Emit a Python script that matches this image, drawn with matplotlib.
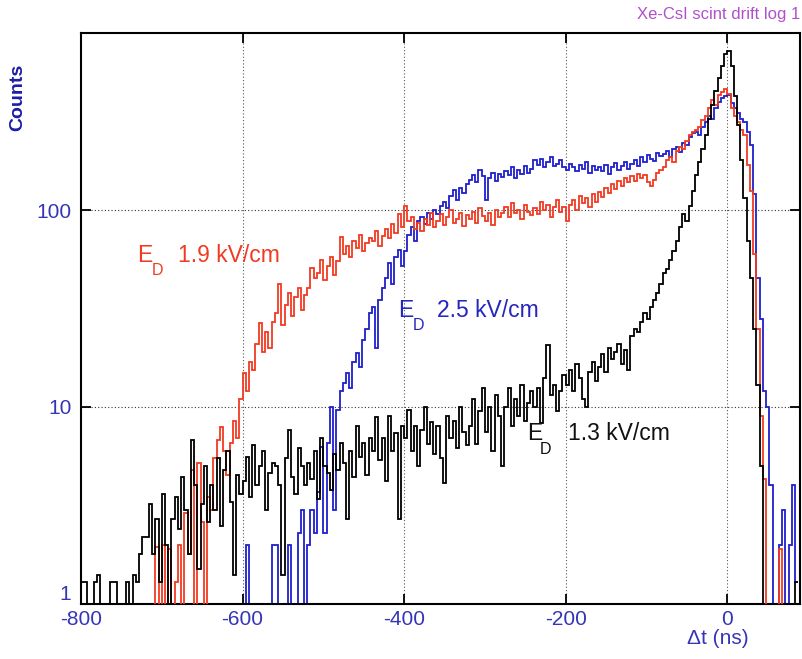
import numpy as np
import matplotlib
matplotlib.use("Agg")
import matplotlib.pyplot as plt

# ---- data (4 ns bins from -800 to 88 ns) ----
bin_edges_start = -800
bin_width = 4

black_counts = [
    1.3, 1.3, 0, 0, 1.3, 1.4, 0, 0, 0, 1.3,
    1.3, 0, 0, 0, 1.3, 0, 1.4, 1.3, 1.8, 2.2,
    2.2, 3.2, 1.8, 2.7, 1.3, 3.6, 2.0, 0, 2.7, 3.5,
    2.4, 4.4, 3.0, 1.8, 6.8, 4.0, 1.5, 3.2, 5.0, 2.6,
    4.0, 3.0, 5.5, 2.5, 4.8, 6.0, 3.3, 1.4, 4.5, 3.6,
    4.2, 5.6, 3.5, 6.4, 4.0, 5.0, 6.0, 3.0, 4.6, 5.2,
    5.0, 4.0, 1.4, 5.5, 7.6, 4.4, 3.6, 6.2, 5.0, 4.0,
    5.2, 4.3, 6.0, 3.4, 7.0, 5.0, 4.6, 3.8, 5.8, 4.8,
    6.6, 5.2, 2.7, 6.0, 4.4, 8.0, 5.6, 6.6, 4.5, 7.0,
    6.0, 8.9, 5.4, 7.0, 4.2, 9.0, 6.0, 7.4, 2.7, 8.0,
    7.0, 9.6, 6.0, 8.0, 5.0, 7.6, 10.0, 6.5, 8.4, 5.8,
    8.0, 5.5, 4.1, 9.0, 7.0, 8.5, 6.2, 10.0, 7.5, 6.4,
    8.0, 11.0, 6.5, 9.5, 12.5, 7.5, 10.0, 6.0, 11.5, 9.0,
    5.0, 10.0, 12.5, 8.0, 11.0, 9.0, 13.0, 8.5, 10.5, 12.0,
    10.0, 12.5, 8.3, 14.0, 20.6, 11.5, 13.0, 9.5, 12.0, 14.5,
    13.0, 15.5, 12.0, 16.5, 14.0, 11.0, 10.0, 15.0, 17.0, 13.5,
    16.0, 18.5, 15.0, 20.0, 17.5, 19.0, 21.0, 16.5, 19.5, 15.5,
    23.0, 25.0, 24.0, 27.0, 30.0, 28.0, 32.0, 35.0, 38.0, 42.0,
    48, 50, 56, 62, 70, 82, 95, 88, 105, 125,
    150, 175, 205, 240, 290, 340, 400, 470, 540, 620,
    640, 540, 380, 270, 180, 115, 70, 45, 25, 13,
    5, 0, 0, 0, 0, 0, 0, 0, 0, 0,
    0, 1.3,
]

red_counts = [
    0, 0, 0, 0, 0, 0, 0, 0, 0, 0,
    0, 0, 0, 0, 0, 0, 0, 0, 0, 0,
    0, 0, 0, 1.95, 0, 2.0, 0, 1.9, 0, 1.3,
    2.0, 0, 2.9, 1.8, 4.8, 0, 5.2, 2.6, 0, 3.5,
    3.0, 5.5, 6.8, 7.9, 6.0, 4.5, 6.6, 8.5, 7.0, 11.0,
    14.8, 12.0, 17.0, 15.5, 21.0, 26.7, 19.0, 24.0, 20.0, 27.0,
    30, 42, 26, 33, 38, 29, 36, 40, 31, 37,
    40, 51, 45, 48, 56, 44, 52, 58, 47, 55,
    73, 60, 66, 58, 70, 64, 75, 62, 68, 72,
    70, 78, 66, 74, 80, 72, 85, 76, 95, 82,
    105, 88, 92, 80, 86, 78, 90, 84, 96, 82,
    88, 95, 84, 92, 100, 86, 90, 97, 83, 94,
    90, 98, 86, 102, 93, 88, 96, 84, 100, 92,
    97, 104, 92, 108, 96, 100, 90, 106, 98, 94,
    102, 95, 110, 100, 106, 92, 104, 112, 98, 103,
    88, 106, 112, 100, 118, 108, 115, 104, 120, 110,
    124, 116, 130, 122, 135, 128, 140, 132, 145, 138,
    148, 140, 152, 145, 150, 138, 133, 142, 155, 160,
    165, 180, 186, 175, 200, 210, 205, 225, 240, 250,
    255, 265, 286, 300, 330, 360, 340, 385, 395, 410,
    390, 330, 300, 280, 255, 240, 170, 125, 60, 25,
    9, 4.3, 0, 0, 0, 0, 1.9, 0, 0, 0,
    0, 0,
]

blue_counts = [
    0, 0, 0, 0, 0, 0, 0, 0, 0, 0,
    0, 0, 0, 0, 0, 0, 0, 0, 0, 0,
    0, 0, 0, 0, 0, 0, 0, 0, 0, 0,
    0, 0, 0, 0, 0, 0, 0, 0, 0, 0,
    0, 0, 0, 0, 0, 0, 0, 0, 0, 0,
    0, 2.0, 0, 0, 0, 0, 0, 0, 0, 2.0,
    2.0, 0, 0, 0, 2.0, 0, 0, 2.3, 3.0, 0,
    2.0, 3.0, 2.3, 3.7, 6.3, 2.3, 6.6, 10.0, 3.0, 9.6,
    12.0, 13.2, 14.9, 12.5, 17.0, 18.8, 16.0, 22.0, 25.0, 30.0,
    32, 20, 35, 40, 45, 54, 42, 58, 63, 52,
    62, 75, 82, 70, 88, 92, 85, 97, 90, 100,
    95, 105, 110, 102, 118, 126, 112, 130, 122, 135,
    142, 150, 138, 160, 148, 112, 145, 155, 140, 152,
    147, 158, 150, 165, 145, 160, 152, 168, 155, 162,
    179, 170, 182, 165, 176, 185, 168, 172, 180, 166,
    160, 172, 165, 158, 170, 162, 175, 155, 168, 160,
    165, 158, 170, 152, 166, 174, 160, 168, 175, 162,
    172, 180, 168, 185, 176, 190, 182, 178, 195, 188,
    192, 200, 185, 205, 210, 198, 220, 215, 235, 245,
    250, 240, 265, 280, 300, 290, 330, 355, 370, 380,
    385, 350, 330, 310, 290, 280, 250, 215, 120, 45,
    28, 12, 10, 4.0, 0, 0, 2.0, 3.0, 0, 2.0,
    4.0, 1.3,
]

x_ticks = [-800, -600, -400, -200, 0]
y_ticks = [1, 10, 100]
y_tick_labels = ["1", "10", "100"]

title_text = "Xe-CsI scint drift log 1"
labels = {"red": "1.9 kV/cm", "blue": "2.5 kV/cm", "black": "1.3 kV/cm"}

# ---- plot ----
FONT = ["Liberation Sans", "DejaVu Sans"]
plt.rcParams["font.family"] = FONT

fig = plt.figure(figsize=(8.02, 6.59), dpi=100)
ax = fig.add_axes([81 / 802, 1 - 604 / 659, (800 - 81) / 802, (604 - 33) / 659])

n = len(black_counts)
edges = bin_edges_start + bin_width * np.arange(n + 1)

def draw(vals, color, lw=1.3, z=2):
    v = np.asarray(vals, dtype=float)
    ax.stairs(v, edges, color=color, linewidth=lw, baseline=None, zorder=z)

draw(blue_counts, "#1f1fcc", z=2)
draw(red_counts, "#f03a22", z=3)
draw(black_counts, "#000000", z=4)

ax.set_yscale("log", nonpositive="clip")
ax.set_xlim(-800, 90)
ax.set_ylim(1, 10 ** ((604 - 33) / 197))

ax.set_xticks(x_ticks)
ax.set_xticklabels([str(t) for t in x_ticks])
ax.set_yticks(y_ticks)
ax.set_yticklabels(y_tick_labels)
ax.yaxis.set_minor_locator(matplotlib.ticker.NullLocator())
ax.xaxis.set_minor_locator(matplotlib.ticker.NullLocator())

tick_blue = "#3535b8"
ax.tick_params(axis="both", which="major", direction="in", length=7, width=1.3,
               top=True, right=True, labelsize=15, labelcolor=tick_blue)
ax.tick_params(axis="x", pad=4)
ax.tick_params(axis="y", pad=7)
for s in ax.spines.values():
    s.set_linewidth(1.5)

# lift the "1" label above the x tick labels as in the reference
for lab in ax.get_yticklabels():
    if lab.get_text() == "1":
        lab.set_verticalalignment("bottom")

for xv in [-600, -400, -200, 0]:
    ax.axvline(xv, color="#555555", linestyle=(0, (1, 2)), linewidth=0.8, zorder=1)
for yv in [10, 100]:
    ax.axhline(yv, color="#333333", linestyle=(0, (1, 2)), linewidth=0.8, zorder=1)

# axis labels
fig.text(18 / 802, 1 - 97 / 659, "Counts", rotation=90, ha="center", va="center",
         fontsize=14, fontweight="bold", color="#1c1ca8")
fig.text(718 / 802, 1 - 638 / 659, "\u0394t (ns)", ha="center", va="center",
         fontsize=15, color=tick_blue)
fig.text(800 / 802, 1 - 15 / 659, title_text, ha="right", va="center",
         fontsize=12, color="#b050cc")

# annotations (pixel positions -> figure fractions)
def ann(xE, yE, xD, yD, xT, yT, txt, color):
    fig.text(xE / 802, 1 - yE / 659, "E", fontsize=16.5, color=color, ha="left", va="baseline")
    fig.text(xD / 802, 1 - yD / 659, "D", fontsize=11.5, color=color, ha="left", va="baseline")
    fig.text(xT / 802, 1 - yT / 659, txt, fontsize=16.5, color=color, ha="left", va="baseline")

ann(137, 262, 152, 275, 178, 262, labels["red"], "#f03a22")
ann(398, 317, 413, 330, 437, 317, labels["blue"], "#2525c0")
ann(527, 440, 540, 454, 568, 440, labels["black"], "#111111")

fig.savefig("out.png", dpi=100)
